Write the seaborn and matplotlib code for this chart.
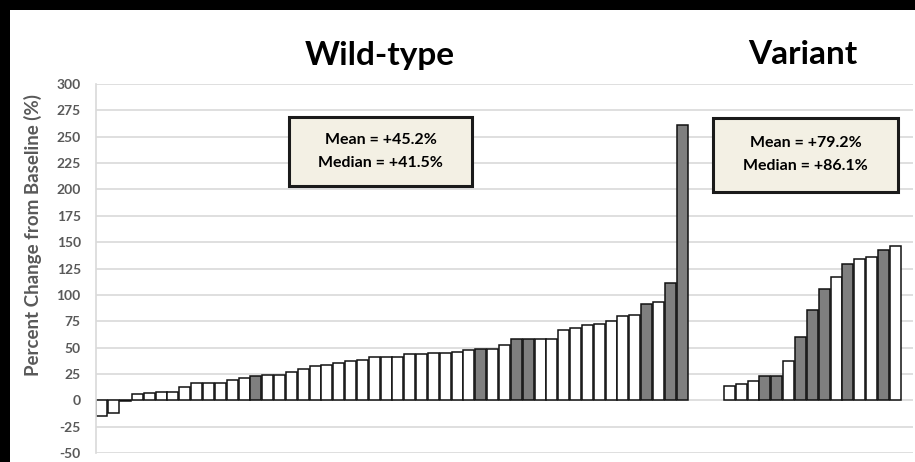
import matplotlib
matplotlib.use("Agg")
import matplotlib.pyplot as plt
from matplotlib.patches import Rectangle
import numpy as np
import pandas as pd
import seaborn as sns

# ---- data ----
wt_values = [-14.5, -12.3, -0.8, 6.0, 7.0, 8.3, 8.3, 12.7, 16.2, 16.2,
             16.2, 19.7, 21.5, 22.8, 24.1, 24.1, 27.3, 30.1, 32.3, 33.3,
             35.2, 36.8, 38.0, 40.8, 41.5, 41.5, 44.0, 44.3, 45.0, 45.0,
             46.2, 47.5, 48.8, 48.8, 52.6, 58.0, 58.0, 58.0, 58.6, 66.5,
             68.1, 71.6, 72.8, 75.4, 80.4, 80.7, 91.8, 93.1, 110.8, 261.5]
wt_fill = ["open"] * 50
for i in [13, 32, 35, 36, 46, 48, 49]:
    wt_fill[i] = "filled"

var_values = [13.5, 15.4, 18.2, 22.6, 23.3, 37.1, 60.3, 86.1, 106.0, 117.3,
              129.4, 134.4, 135.7, 142.4, 146.4]
var_fill = ["open", "open", "open", "filled", "filled", "open", "filled", "filled",
            "filled", "open", "filled", "open", "open", "filled", "open"]

group_titles = ["Wild-type", "Variant"]
wt_stats = ["Mean = +45.2%", "Median = +41.5%"]
var_stats = ["Mean = +79.2%", "Median = +86.1%"]
y_label = "Percent Change from Baseline (%)"
y_ticks = list(range(-50, 301, 25))

# ---- layout ----
gap_slots = 3
n_wt = len(wt_values)
n_var = len(var_values)
wt_pos = np.arange(n_wt)
var_pos = np.arange(n_var) + n_wt + gap_slots
n_slots = n_wt + gap_slots + n_var + 1

df = pd.DataFrame({
    "pos": np.concatenate([wt_pos, var_pos]).astype(float),
    "value": wt_values + var_values,
    "fill": wt_fill + var_fill,
})

sns.set_style("white")
plt.rcParams["font.family"] = ["Lato", "DejaVu Sans"]

W, H = 915, 462
fig = plt.figure(figsize=(W / 100, H / 100), dpi=100, facecolor="black")
fig.patches.append(Rectangle((10 / W, 0), (W - 10) / W, (H - 10) / H,
                             transform=fig.transFigure, facecolor="white",
                             edgecolor="none", zorder=-10))

ax_l, ax_r, ax_t, ax_b = 96, 913, 84, 453
ax = fig.add_axes([ax_l / W, 1 - ax_b / H, (ax_r - ax_l) / W, (ax_b - ax_t) / H])
ax.set_facecolor("white")
ax.set_zorder(1)

sns.barplot(data=df, x="pos", y="value", hue="fill", native_scale=True,
            palette={"open": "white", "filled": "#7f7f7f"}, dodge=False,
            width=0.93, edgecolor="#111111", linewidth=1.1, legend=False,
            errorbar=None, ax=ax)

ax.set_xlim(-0.5, n_slots - 0.5)
ax.set_ylim(-50, 300)
ax.set_yticks(y_ticks)
ax.set_yticklabels([str(t) for t in y_ticks], fontsize=10, fontweight="bold",
                   color="#595959")
ax.set_xticks([])
ax.set_xlabel("")
ax.set_ylabel("")
ax.tick_params(axis="y", length=0, pad=11)
ax.yaxis.grid(True, color="#d9d9d9", linewidth=1.2)
ax.set_axisbelow(True)
for s in ["top", "right", "bottom"]:
    ax.spines[s].set_visible(False)
ax.spines["left"].set_color("#d9d9d9")
ax.spines["left"].set_linewidth(1.2)

fig.text(33 / W, 1 - 235 / H, y_label, rotation=90, ha="center", va="center",
         fontsize=13.5, fontweight="bold", color="#595959")

fig.text(380 / W, 1 - 56 / H, group_titles[0], ha="center", va="center",
         fontsize=24, fontweight="bold", color="black")
fig.text(803 / W, 1 - 54 / H, group_titles[1], ha="center", va="center",
         fontsize=24, fontweight="bold", color="black")

def stat_box(x0, x1, y0, y1, lines, ys):
    fig.add_artist(Rectangle((x0 / W, 1 - y1 / H), (x1 - x0) / W, (y1 - y0) / H,
                             transform=fig.transFigure, facecolor="#f3f0e4",
                             edgecolor="#1a1a1a", linewidth=2.2, zorder=5))
    for txt, yy in zip(lines, ys):
        fig.text((x0 + x1) / 2 / W, 1 - yy / H, txt, ha="center", va="center",
                 fontsize=11.5, fontweight="bold", color="black", zorder=6)

stat_box(289, 472, 117, 186, wt_stats, [140, 163])
stat_box(713, 898, 118, 192, var_stats, [143, 166])

fig.savefig("out.png", dpi=100, facecolor=fig.get_facecolor())
